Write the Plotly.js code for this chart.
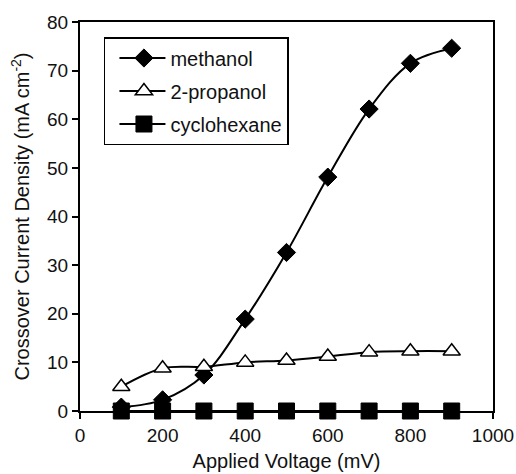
<!DOCTYPE html>
<html>
<head>
<meta charset="utf-8">
<script src="https://cdn.plot.ly/plotly-3.0.1.min.js"></script>
<style>html,body{margin:0;padding:0;background:#fff;}#chart{width:516px;height:474px;}</style>
</head>
<body>
<div id="chart"></div>
<script>
var voltage = [100, 200, 300, 400, 500, 600, 700, 800, 900];
var methanol = [0.8, 2.3, 7.4, 18.9, 32.6, 48.1, 62.1, 71.5, 74.6];
var propanol = [5.0, 8.8, 9.1, 10.0, 10.4, 11.2, 12.1, 12.3, 12.3];
var cyclohexane = [0, 0, 0, 0, 0, 0, 0, 0, 0];
var seriesNames = ["methanol", "2-propanol", "cyclohexane"];

var lineStyle = {color: "#000", width: 2, shape: "spline", smoothing: 1};
var traces = [
  {x: voltage, y: methanol, name: seriesNames[0], legendgroup: "a", mode: "lines+markers", cliponaxis: false,
   line: lineStyle, marker: {symbol: "diamond", size: 14, color: "#000", line: {color: "#000", width: 1}}},
  {x: voltage, y: propanol, name: seriesNames[1], legendgroup: "b", mode: "lines+markers", cliponaxis: false,
   line: lineStyle, marker: {symbol: "triangle-up", size: 15, color: "#fff", line: {color: "#000", width: 1.5}}},
  {x: voltage, y: cyclohexane, name: seriesNames[2], legendgroup: "c", mode: "lines+markers", cliponaxis: false,
   line: lineStyle, marker: {symbol: "square", size: 16, color: "#000", line: {color: "#000", width: 1}}}
];

var fam = "Liberation Sans, Arial, sans-serif";
var tickFont = {family: fam, size: 19, color: "#111"};
var titleFont = {family: fam, size: 20, color: "#111"};
var layout = {
  width: 516, height: 474,
  margin: {l: 80, r: 23, t: 22, b: 63},
  paper_bgcolor: "#fff", plot_bgcolor: "#fff",
  font: titleFont,
  showlegend: true,
  legend: {x: 0.058, y: 0.9614, xanchor: "left", yanchor: "top",
           bordercolor: "#000", borderwidth: 1.5, bgcolor: "#fff",
           font: {family: fam, size: 20, color: "#111"},
           itemwidth: 55, tracegroupgap: 4},
  xaxis: {range: [0, 1000], dtick: 200, tick0: 0, showgrid: false, zeroline: false,
          showline: true, linecolor: "#000", linewidth: 2, mirror: true,
          ticks: "outside", ticklen: 6, tickwidth: 2, tickcolor: "#000",
          tickfont: tickFont,
          title: {text: "Applied Voltage (mV)", font: titleFont, standoff: 9}},
  yaxis: {range: [0, 80], dtick: 10, tick0: 0, showgrid: false, zeroline: false,
          showline: true, linecolor: "#000", linewidth: 2, mirror: true,
          ticks: "outside", ticklen: 6, tickwidth: 2, tickcolor: "#000",
          tickfont: tickFont,
          title: {text: "Crossover Current Density (mA cm<sup>-2</sup>)", font: titleFont, standoff: 12}}
};
Plotly.newPlot("chart", traces, layout, {staticPlot: true}).then(function () {
  // lengthen legend sample lines to match the reference legend style
  document.querySelectorAll(".legend .legendlines path").forEach(function (p) {
    p.setAttribute("d", "M14,0h46");
  });
  document.querySelectorAll(".legend .legendpoints").forEach(function (g) {
    g.setAttribute("transform", "translate(6,0)");
  });
});
</script>
</body>
</html>
